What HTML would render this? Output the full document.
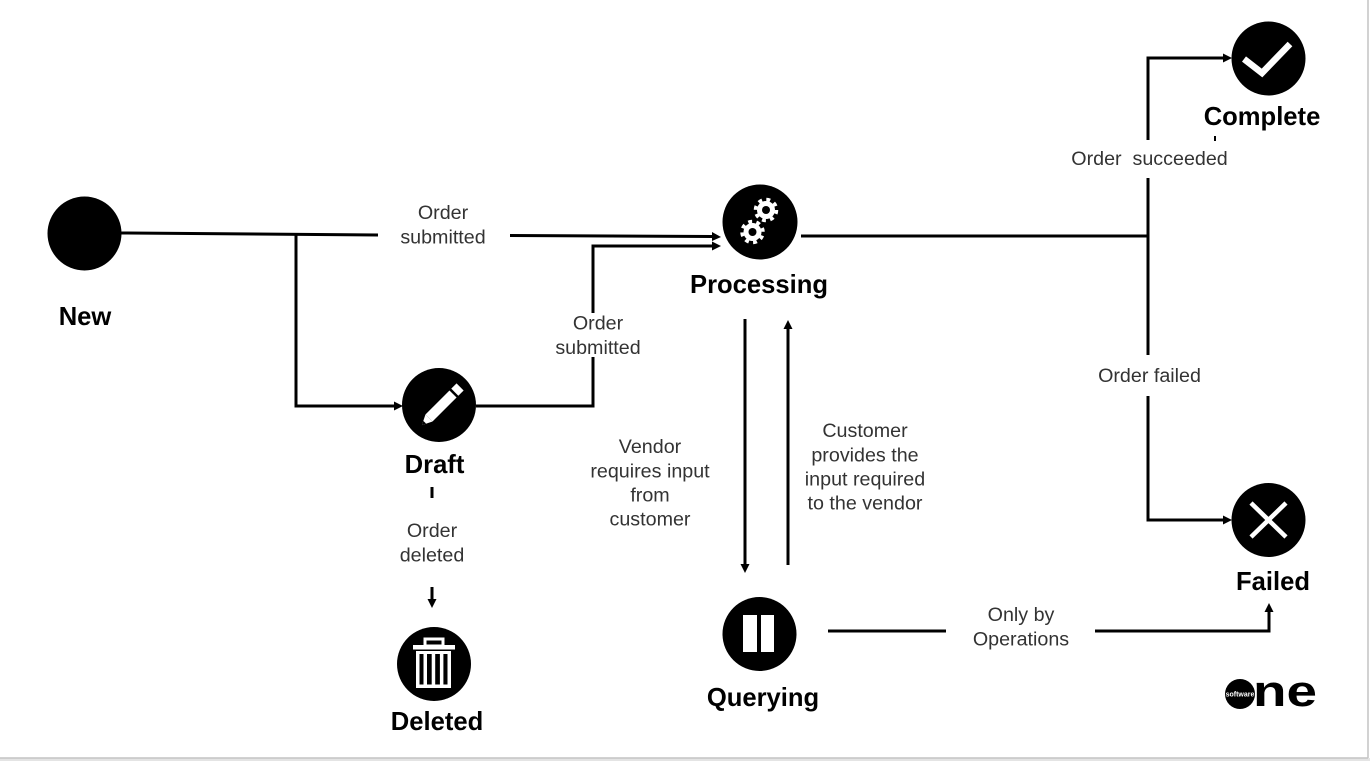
<!DOCTYPE html>
<html><head><meta charset="utf-8"><style>
html,body{margin:0;padding:0;background:#fff;}
svg{display:block;}
.b{font-family:"Liberation Sans",Arial,sans-serif;font-weight:bold;font-size:25.6px;fill:#000;text-anchor:middle;}
.l{font-family:"Liberation Sans",Arial,sans-serif;font-size:19.7px;fill:#333;text-anchor:middle;}
</style></head><body>
<svg width="1370" height="761" viewBox="0 0 1370 761" xmlns="http://www.w3.org/2000/svg">
<rect x="0" y="0" width="1370" height="761" fill="#fff"/>
<rect x="0" y="758" width="1370" height="3" fill="#e4e4e4"/>
<line x1="0" y1="758" x2="1368" y2="758" stroke="#c4c4c4" stroke-width="1.5"/>
<line x1="1368" y1="0" x2="1368" y2="758" stroke="#c4c4c4" stroke-width="1.5"/>

<g stroke="#000" stroke-width="3" fill="none">
  <!-- New -> Processing -->
  <line x1="121" y1="233" x2="378" y2="235"/>
  <line x1="510" y1="235.5" x2="712" y2="236.5"/>
  <!-- New -> Draft -->
  <polyline points="296,234 296,406 395,406"/>
  <!-- Draft -> Processing -->
  <polyline points="476,406 593,406 593,357"/>
  <polyline points="593,313 593,246 712,246"/>
  <!-- Processing -> Complete/Failed -->
  <line x1="801" y1="236" x2="1149" y2="236"/>
  <polyline points="1224,58 1148,58 1148,140"/>
  <line x1="1148" y1="178" x2="1148" y2="355"/>
  <polyline points="1148,396 1148,520 1224,520"/>
  <!-- Processing <-> Querying -->
  <line x1="745" y1="319" x2="745" y2="565"/>
  <line x1="788" y1="565" x2="788" y2="329"/>
  <!-- Querying -> Failed -->
  <line x1="828" y1="631" x2="946" y2="631"/>
  <polyline points="1095,631 1269,631 1269,611"/>
  <!-- Draft -> Deleted -->
  <line x1="432" y1="487" x2="432" y2="498"/>
  <line x1="432" y1="587" x2="432" y2="600"/>
</g>
<g fill="#000">
  <polygon points="712,232 721,237 712,241"/>
  <polygon points="394,401.5 403,406 394,410.5"/>
  <polygon points="712,241.5 721,246 712,250.5"/>
  <polygon points="1223,53.5 1232,58 1223,62.5"/>
  <polygon points="1223,515.5 1232,520 1223,524.5"/>
  <polygon points="740.5,564 745,573 749.5,564"/>
  <polygon points="783.5,329 788,320 792.5,329"/>
  <polygon points="1264.5,612 1269,603 1273.5,612"/>
  <polygon points="427.5,599 432,608 436.5,599"/>
  <rect x="1214" y="136" width="2" height="5"/>
</g>

<!-- Nodes -->
<circle cx="84.5" cy="233.5" r="37" fill="#000"/>
<circle cx="760" cy="222" r="37.5" fill="#000"/>
<circle cx="439" cy="405" r="37" fill="#000"/>
<circle cx="434" cy="664" r="37" fill="#000"/>
<circle cx="759.5" cy="634" r="37" fill="#000"/>
<circle cx="1268.5" cy="58.5" r="37" fill="#000"/>
<circle cx="1268.5" cy="520" r="37" fill="#000"/>

<!-- gears -->
<g>
  <circle cx="766" cy="210" r="10.5" fill="none" stroke="#fff" stroke-width="3.5" stroke-dasharray="3.9 4.35"/>
  <circle cx="766" cy="210" r="9" fill="#fff"/>
  <circle cx="766" cy="210" r="4" fill="#000"/>
  <circle cx="752.5" cy="232" r="10.5" fill="none" stroke="#fff" stroke-width="3.5" stroke-dasharray="3.9 4.35" transform="rotate(20 752.5 232)"/>
  <circle cx="752.5" cy="232" r="9" fill="#fff"/>
  <circle cx="752.5" cy="232" r="4" fill="#000"/>
</g>

<!-- pencil -->
<g transform="translate(441,406) rotate(-45)">
  <polygon points="-27,0 -17,-5 -17,5" fill="#fff"/>
  <polygon points="-27,0 -23,-2 -23,2" fill="#000"/>
  <rect x="-17" y="-5" width="34" height="10" fill="#fff"/>
  <rect x="19.5" y="-5" width="7.5" height="10" fill="#fff"/>
</g>

<!-- trash -->
<g fill="#fff">
  <rect x="425" y="639" width="18" height="7" fill="none" stroke="#fff" stroke-width="3"/>
  <rect x="413" y="645" width="42" height="4.5"/>
  <rect x="416" y="651" width="35" height="37"/>
  <rect x="419.5" y="654" width="28" height="30.5" fill="#000"/>
  <rect x="423.5" y="654" width="3.5" height="30.5"/>
  <rect x="431.7" y="654" width="3.5" height="30.5"/>
  <rect x="439.9" y="654" width="3.5" height="30.5"/>
</g>

<!-- pause -->
<rect x="743" y="615" width="14" height="37" fill="#fff"/>
<rect x="761" y="615" width="13" height="37" fill="#fff"/>

<!-- check -->
<polyline points="1244,59 1262,73 1290,44" fill="none" stroke="#fff" stroke-width="6.5"/>

<!-- X -->
<g stroke="#fff" stroke-width="4.5">
  <line x1="1251" y1="503" x2="1286" y2="537"/>
  <line x1="1286" y1="503" x2="1251" y2="537"/>
</g>

<!-- Node labels -->
<text class="b" x="85" y="325">New</text>
<text class="b" x="759" y="293">Processing</text>
<text class="b" x="434.5" y="473">Draft</text>
<text class="b" x="437" y="730">Deleted</text>
<text class="b" x="763" y="706">Querying</text>
<text class="b" x="1262" y="125">Complete</text>
<text class="b" x="1273" y="590">Failed</text>

<!-- Edge labels -->
<text class="l" x="443" y="219">Order</text>
<text class="l" x="443" y="243.5">submitted</text>
<text class="l" x="598" y="329.5">Order</text>
<text class="l" x="598" y="354">submitted</text>
<text class="l" x="650" y="453">Vendor</text>
<text class="l" x="650" y="477.5">requires input</text>
<text class="l" x="650" y="501.5">from</text>
<text class="l" x="650" y="525.5">customer</text>
<text class="l" x="865" y="437">Customer</text>
<text class="l" x="865" y="461.5">provides the</text>
<text class="l" x="865" y="485.5">input required</text>
<text class="l" x="865" y="509.5">to the vendor</text>
<text class="l" x="432" y="537">Order</text>
<text class="l" x="432" y="561.5">deleted</text>
<text class="l" x="1021" y="621">Only by</text>
<text class="l" x="1021" y="645.5">Operations</text>
<text class="l" x="1149.5" y="165" xml:space="preserve">Order  succeeded</text>
<text class="l" x="1149.5" y="382">Order failed</text>

<!-- logo -->
<circle cx="1240" cy="694" r="15" fill="#000"/>
<text x="1240" y="696.5" font-family="'Liberation Sans',Arial,sans-serif" font-size="7" font-weight="bold" fill="#fff" text-anchor="middle">software</text>
<text x="1253" y="706" font-family="'Liberation Sans',Arial,sans-serif" font-size="44" font-weight="bold" fill="#000" textLength="64" lengthAdjust="spacingAndGlyphs">ne</text>
</svg>
</body></html>
